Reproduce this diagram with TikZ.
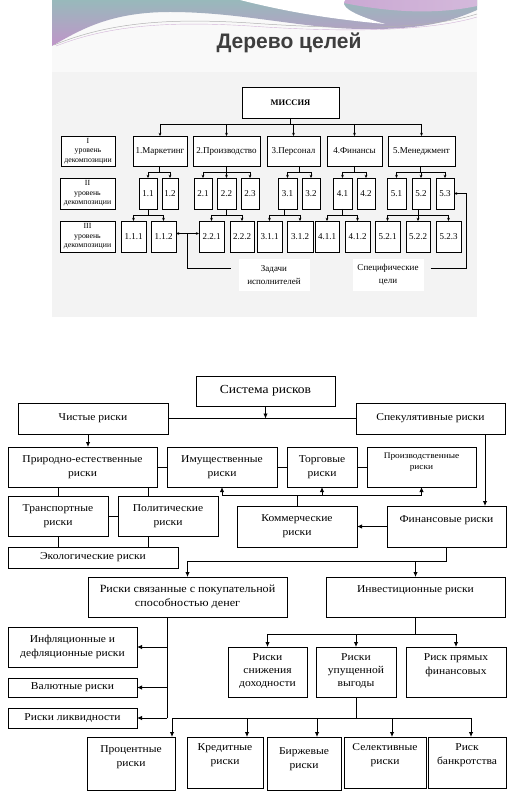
\documentclass[tikz,border=0pt]{standalone}
\usepackage{fontspec}
\setmainfont{Liberation Serif}
\newfontfamily\rfont[FakeStretch=1.1]{Liberation Serif}
\newfontfamily\tifont{Liberation Sans}
\usetikzlibrary{calc,arrows.meta}
\definecolor{slidebg}{HTML}{F9F9F9}
\definecolor{panelbg}{HTML}{F3F3F3}
\definecolor{wteal}{HTML}{98B9BB}
\definecolor{wpurp}{HTML}{C095C9}
\definecolor{wpurp2}{HTML}{C9A7D2}
\definecolor{titlecol}{HTML}{3E3E3E}
\newcommand\TB[7]{\node[#6, minimum width={#4-#2}, minimum height={#5-#3}] (#1) at ({(#2+#4)/2},{(#3+#5)/2}) {#7};}
\newcommand\RB[8]{\node[rbox, minimum width={#4-#2}, minimum height={#5-#3}] (#1) at ({(#2+#4)/2},{(#3+#5)/2}) {};
  \node[rtext,#8] (#1t) at ([yshift=#6pt]#1.center) {#7};}
\newcommand\fork[5]{\coordinate[yshift=#5pt] (fk) at ($(#2.north)!.5!(#3.north)$);
  \draw[tline] (fk |- #1.south) -- (fk);
  \draw[tline] (#2.north |- fk) -- (#3.north |- fk);
  \foreach \c in {#4} \draw[tline,tarr] (\c.north |- fk) -- (\c.north);}
\begin{document}
\begin{tikzpicture}[x=1pt,y=-1pt,
  tline/.style={line width=0.6pt},
  tarr/.style={-{Stealth[length=3.2pt,width=2.8pt]}},
  tbox/.style={draw, fill=white, line width=0.6pt, inner sep=0pt, outer sep=0pt, align=center, font=\fontsize{9}{10}\selectfont},
  lbox/.style={tbox, font=\fontsize{7.8}{9.3}\selectfont},
  mbox/.style={tbox, font=\bfseries\fontsize{8.5}{10}\selectfont},
  note/.style={fill=white, inner sep=0pt, minimum width=71, minimum height=32, align=center, font=\fontsize{9}{13}\selectfont},
  rbox/.style={draw, fill=white, line width=0.9pt, inner sep=0pt, outer sep=0pt},
  rtext/.style={align=center, inner sep=0pt, font=\rfont\fontsize{10.5}{14}\selectfont},
  small/.style={font=\rfont\fontsize{8.5}{11}\selectfont},
  rline/.style={line width=0.9pt},
  rarr/.style={line width=0.9pt,-{Latex[length=5pt,width=4.5pt]}}]
\useasboundingbox (0,0) rectangle (529,799);
\fill[white] (0,0) rectangle (529,799);
% ---------- slide ----------
\fill[slidebg] (52,0) rectangle (477,317);
\fill[panelbg] (52,72) rectangle (477,317);
\shade[top color=wteal, bottom color=wpurp] (52,0) -- (477,0) -- (477,10) .. controls (450,22) and (420,30) .. (360,29) .. controls (300,28) and (240,12) .. (170,12) .. controls (110,12) and (80,30) .. (52,46) -- cycle;
\shade[left color=wpurp2, right color=wpurp2!80!white] (330,0) -- (477,0) -- (477,6) .. controls (440,14) and (390,14) .. (330,0) -- cycle;
\fill[white] (240,0) .. controls (280,10) and (320,18) .. (385,24) .. controls (350,14) and (340,6) .. (345,0) -- cycle;
\draw[gray!60, line width=0.5pt] (54,45) .. controls (110,22) and (170,18) .. (250,23) .. controls (320,28) and (420,32) .. (477,14);
\draw[wpurp!70, line width=0.4pt] (56,46) .. controls (110,25) and (170,21) .. (250,26) .. controls (320,31) and (420,34) .. (477,17);
\node[font=\tifont\bfseries\fontsize{21}{25}\selectfont, text=titlecol] (title) at (289,43) {Дерево целей};
% ---------- tree ----------
\TB{mis}{242}{87}{339}{118}{mbox}{МИССИЯ}
\TB{lv1}{61}{136}{115}{166}{lbox}{I\\уровень\\декомпозиции}
\TB{lv2}{60}{178}{115}{209}{lbox}{II\\уровень\\декомпозиции}
\TB{lv3}{60}{221}{115}{252}{lbox}{III\\уровень\\декомпозиции}
\TB{m1}{133}{136}{187}{166}{tbox}{1.Маркетинг}
\TB{m2}{193}{136}{260}{166}{tbox}{2.Производство}
\TB{m3}{267}{136}{320}{166}{tbox}{3.Персонал}
\TB{m4}{327}{136}{382}{166}{tbox}{4.Финансы}
\TB{m5}{388}{136}{455}{166}{tbox}{5.Менеджмент}
\TB{a11}{139}{178}{157}{209}{tbox}{1.1}
\TB{a12}{162}{178}{178}{209}{tbox}{1.2}
\TB{a21}{194}{178}{212}{209}{tbox}{2.1}
\TB{a22}{217}{178}{236}{209}{tbox}{2.2}
\TB{a23}{241}{178}{259}{209}{tbox}{2.3}
\TB{a31}{278}{178}{297}{209}{tbox}{3.1}
\TB{a32}{302}{178}{320}{209}{tbox}{3.2}
\TB{a41}{333}{178}{352}{209}{tbox}{4.1}
\TB{a42}{357}{178}{375}{209}{tbox}{4.2}
\TB{a51}{387}{178}{406}{209}{tbox}{5.1}
\TB{a52}{412}{178}{430}{209}{tbox}{5.2}
\TB{a53}{436}{178}{454}{209}{tbox}{5.3}
\TB{b111}{121}{221}{146}{252}{tbox}{1.1.1}
\TB{b112}{151}{221}{176}{252}{tbox}{1.1.2}
\TB{b221}{199}{221}{224}{252}{tbox}{2.2.1}
\TB{b222}{230}{221}{254}{252}{tbox}{2.2.2}
\TB{b311}{257}{221}{282}{252}{tbox}{3.1.1}
\TB{b312}{287}{221}{313}{252}{tbox}{3.1.2}
\TB{b411}{315}{221}{339}{252}{tbox}{4.1.1}
\TB{b412}{345}{221}{370}{252}{tbox}{4.1.2}
\TB{b521}{375}{221}{400}{252}{tbox}{5.2.1}
\TB{b522}{406}{221}{430}{252}{tbox}{5.2.2}
\TB{b523}{436}{221}{461}{252}{tbox}{5.2.3}
\fork{mis}{m1}{m5}{m1,m2,m3,m4,m5}{12}
\fork{m1}{a11}{a12}{a11,a12}{6}
\fork{m2}{a21}{a23}{a21,a22,a23}{6}
\fork{m3}{a31}{a32}{a31,a32}{6}
\fork{m4}{a41}{a42}{a41,a42}{6}
\fork{m5}{a51}{a53}{a51,a52,a53}{6}
\fork{a11}{b111}{b112}{b111,b112}{6}
\fork{a22}{b221}{b222}{b221,b222}{6}
\fork{a31}{b311}{b312}{b311,b312}{6}
\fork{a41}{b411}{b412}{b411,b412}{6}
\fork{a52}{b521}{b523}{b521,b522,b523}{6}
\node[note] (zad) at (274,275) {Задачи\\исполнителей};
\node[note] (spec) at (388,275) {Специфические\\цели};
\draw[tline,{Stealth[length=3.2pt,width=2.8pt]}-{Stealth[length=3.2pt,width=2.8pt]}] ([yshift=3pt]b112.east) -- ([yshift=3pt]b221.west);
\coordinate[yshift=3pt] (zj) at ($(b112.east)!.5!(b221.west)$);
\draw[tline] (zj) |- ([xshift=-7pt,yshift=7pt]zad.west);
\draw[tline,tarr] ([xshift=7pt,yshift=7pt]spec.east) -| ([xshift=12pt]a53.east) -- (a53.east);
% ---------- risk system ----------
\RB{sys}{196}{376}{335}{406}{0}{Система рисков}{font=\rfont\fontsize{12.3}{14}\selectfont}
\RB{chist}{18}{403}{168}{434}{0}{Чистые риски}{}
\RB{spek}{356}{403}{505}{434}{0}{Спекулятивные риски}{}
\RB{prir}{8}{447}{157}{487}{0}{Природно-естественные\\риски}{}
\RB{imush}{167}{447}{277}{487}{0}{Имущественные\\риски}{}
\RB{torg}{287}{447}{357}{487}{0}{Торговые\\риски}{}
\RB{proizv}{367}{447}{476}{487}{4.5}{Производственные\\риски}{small}
\RB{trans}{8}{496}{108}{536}{0}{Транспортные\\риски}{}
\RB{polit}{118}{496}{218}{536}{0}{Политические\\риски}{}
\RB{eko}{8}{547}{178}{568}{0}{Экологические риски}{}
\RB{komm}{237}{506}{357}{547}{0}{Коммерческие\\риски}{}
\RB{fin}{387}{506}{506}{547}{6.5}{Финансовые риски}{}
\RB{pokup}{88}{577}{287}{617}{0}{Риски связанные с покупательной\\способностью денег}{font=\rfont\fontsize{11}{14}\selectfont}
\RB{invest}{326}{577}{505}{617}{7}{Инвестиционные риски}{}
\RB{infl}{8}{627}{137}{667}{0}{Инфляционные и\\дефляционные риски}{}
\RB{val}{8}{678}{137}{697}{0}{Валютные риски}{}
\RB{likv}{8}{708}{137}{728}{0}{Риски ликвидности}{}
\RB{sniz}{228}{647}{307}{697}{1}{Риски\\снижения\\доходности}{font=\rfont\fontsize{10.5}{13}\selectfont}
\RB{upush}{316}{647}{396}{697}{1}{Риски\\упущенной\\выгоды}{font=\rfont\fontsize{10.5}{13}\selectfont}
\RB{pryam}{406}{647}{506}{697}{7}{Риск прямых\\финансовых}{}
\RB{proc}{87}{737}{175}{790}{6}{Процентные\\риски}{}
\RB{kred}{187}{737}{263}{788}{7}{Кредитные\\риски}{}
\RB{birzh}{267}{737}{341}{790}{4.5}{Биржевые\\риски}{}
\RB{selek}{344}{737}{426}{788}{7}{Селективные\\риски}{}
\RB{bankr}{428}{737}{506}{788}{7}{Риск\\банкротства}{}
% connectors
\draw[rline] (chist.east) -- (spek.west);
\draw[rarr] (sys.south) -- (sys.south |- chist.east);
\coordinate[xshift=-5pt] (c1) at (chist.south);
\draw[rarr] (c1) -- (c1 |- prir.north);
\draw[rline] (prir.east) -- (imush.west) (imush.east) -- (torg.west) (torg.east) -- (proizv.west);
\coordinate[xshift=-9pt] (c2) at (prir.south east);
\draw[rline] (trans.north) -- (trans.north |- prir.south);
\draw[rline] (c2) -- (c2 |- polit.north);
\draw[rline] (trans.east) -- (polit.west);
\draw[rline] (trans.south) -- (trans.south |- eko.north);
\draw[rline] (c2 |- polit.south) -- (c2 |- eko.north);
\coordinate[yshift=-8pt] (hb) at (torg.south);
\draw[rline] (imush.south |- hb) -- (proizv.south |- hb);
\foreach \b in {imush,torg,proizv} \draw[rarr] (\b.south |- hb) -- (\b.south);
\draw[rline] (komm.north) -- (komm.north |- hb);
\coordinate[xshift=-21pt] (c3) at (fin.north east);
\draw[rarr] (c3 |- spek.south) -- (c3);
\draw[rarr] (fin.west) -- (komm.east);
\coordinate[yshift=16pt] (h2) at (pokup.north);
\draw[rarr] (fin.south) -- (fin.south |- h2) -- (h2) -- (pokup.north);
\draw[rarr] (invest.north |- h2) -- (invest.north);
\coordinate[xshift=79pt] (c4) at (pokup.south west);
\draw[rline] (c4) -- (c4 |- likv.east);
\foreach \b in {infl,val,likv} \draw[rarr] (c4 |- \b.east) -- (\b.east);
\coordinate[yshift=13pt] (h3) at (upush.north);
\draw[rline] (invest.south) -- (invest.south |- h3);
\draw[rline] (sniz.north |- h3) -- (pryam.north |- h3);
\foreach \b in {sniz,upush,pryam} \draw[rarr] (\b.north |- h3) -- (\b.north);
\coordinate[yshift=19pt] (h4) at (birzh.north);
\draw[rline] (upush.south) -- (upush.south |- h4);
\coordinate[xshift=85pt] (d1) at (proc.north west);
\coordinate[xshift=60pt] (d2) at (kred.north west);
\coordinate[xshift=50pt] (d3) at (birzh.north west);
\coordinate[xshift=48pt] (d4) at (selek.north west);
\coordinate[xshift=43pt] (d5) at (bankr.north west);
\draw[rline] (d1 |- h4) -- (d5 |- h4);
\foreach \d in {d1,d2,d3,d4,d5} \draw[rarr] (\d |- h4) -- (\d);
\end{tikzpicture}
\end{document}
